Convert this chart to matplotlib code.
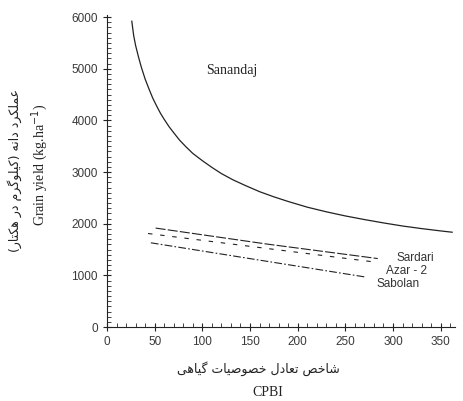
import matplotlib
matplotlib.use("Agg")
import matplotlib.pyplot as plt
from matplotlib.ticker import MultipleLocator

# ---------------- data ----------------
sanandaj_x = [26, 28, 30, 33, 36, 40, 44, 48, 52, 56, 60, 65, 70, 76, 83, 90, 100,
              110, 120, 132, 145, 160, 175, 190, 210, 230, 250, 270, 290, 310, 330,
              350, 362]
sanandaj_y = [5920, 5640, 5450, 5230, 5030, 4800, 4610, 4430, 4280, 4140, 4020,
              3880, 3760, 3620, 3485, 3360, 3220, 3090, 2970, 2850, 2740, 2620,
              2520, 2430, 2320, 2230, 2150, 2080, 2015, 1955, 1905, 1860, 1835]

sardari_x = [51, 168, 284]
sardari_y = [1915, 1605, 1325]

azar_x = [43, 282]
azar_y = [1810, 1255]

sabolan_x = [46, 272]
sabolan_y = [1630, 965]

y_ticks = [0, 1000, 2000, 3000, 4000, 5000, 6000]
x_ticks = [0, 50, 100, 150, 200, 250, 300, 350]

# ---------------- minimal Persian shaping ----------------
FORMS = {  # isolated, final, initial, medial
    'ا': ('\uFE8D', '\uFE8E', None, None),
    'ب': ('\uFE8F', '\uFE90', '\uFE91', '\uFE92'),
    'ت': ('\uFE95', '\uFE96', '\uFE97', '\uFE98'),
    'خ': ('\uFEA5', '\uFEA6', '\uFEA7', '\uFEA8'),
    'د': ('\uFEA9', '\uFEAA', None, None),
    'ر': ('\uFEAD', '\uFEAE', None, None),
    'ش': ('\uFEB5', '\uFEB6', '\uFEB7', '\uFEB8'),
    'ص': ('\uFEB9', '\uFEBA', '\uFEBB', '\uFEBC'),
    'ع': ('\uFEC9', '\uFECA', '\uFECB', '\uFECC'),
    'ل': ('\uFEDD', '\uFEDE', '\uFEDF', '\uFEE0'),
    'م': ('\uFEE1', '\uFEE2', '\uFEE3', '\uFEE4'),
    'ن': ('\uFEE5', '\uFEE6', '\uFEE7', '\uFEE8'),
    'ه': ('\uFEE9', '\uFEEA', '\uFEEB', '\uFEEC'),
    'و': ('\uFEED', '\uFEEE', None, None),
    'ی': ('\uFBFC', '\uFBFD', '\uFBFE', '\uFBFF'),
    'ک': ('\uFB8E', '\uFB8F', '\uFB90', '\uFB91'),
    'گ': ('\uFB92', '\uFB93', '\uFB94', '\uFB95'),
}


def shape(text):
    out = []
    n = len(text)
    for i, ch in enumerate(text):
        if ch not in FORMS:
            out.append(ch)
            continue
        prev = text[i - 1] if i > 0 else None
        nxt = text[i + 1] if i < n - 1 else None
        joins_prev = prev in FORMS and FORMS[prev][2] is not None
        joins_next = nxt in FORMS and FORMS[ch][2] is not None
        iso, fin, ini, med = FORMS[ch]
        if joins_prev and joins_next:
            out.append(med)
        elif joins_prev:
            out.append(fin)
        elif joins_next:
            out.append(ini)
        else:
            out.append(iso)
    vis = out[::-1]
    mirror = {'(': ')', ')': '('}
    return ''.join(mirror.get(c, c) for c in vis)


ylabel_fa = "عملکرد دانه (کیلوگرم در هکتار)"
xlabel_fa = "شاخص تعادل خصوصیات گیاهی"

# ---------------- figure ----------------
fig = plt.figure(figsize=(4.63, 4.01), dpi=100)
ax = fig.add_axes([107 / 463, 74 / 401, 348 / 463, 312 / 401])

ink = '#222222'
ax.plot(sanandaj_x, sanandaj_y, color=ink, lw=0.9)
ax.plot(sardari_x, sardari_y, color=ink, lw=0.8, ls=(0, (9, 2)))
ax.plot(azar_x, azar_y, color=ink, lw=0.8, ls=(0, (4, 7)))
ax.plot(sabolan_x, sabolan_y, color=ink, lw=0.8, ls=(0, (7, 2, 1.5, 2)))

ax.set_xlim(0, 365)
ax.set_ylim(0, 6040)
ax.set_xticks(x_ticks)
ax.set_yticks(y_ticks)
ax.xaxis.set_minor_locator(MultipleLocator(10))
ax.yaxis.set_minor_locator(MultipleLocator(100))
ax.tick_params(which='major', direction='inout', length=6, width=0.8, color=ink,
               labelsize=8.5, labelcolor='#3a3a3a')
ax.tick_params(which='minor', direction='in', length=3, width=0.6, color=ink)
for lab in ax.get_xticklabels() + ax.get_yticklabels():
    lab.set_family('Liberation Sans')
for s in ['top', 'right']:
    ax.spines[s].set_visible(False)
for s in ['left', 'bottom']:
    ax.spines[s].set_color(ink)
    ax.spines[s].set_linewidth(0.8)

ax.text(131, 4970, 'Sanandaj', family='Liberation Serif', fontsize=10, color=ink,
        ha='center', va='center')
ax.text(304, 1335, 'Sardari', family='Liberation Sans', fontsize=8.5, color='#333333',
        ha='left', va='center')
ax.text(293, 1085, 'Azar - 2', family='Liberation Sans', fontsize=8.5, color='#333333',
        ha='left', va='center')
ax.text(283, 830, 'Sabolan', family='Liberation Sans', fontsize=8.5, color='#333333',
        ha='left', va='center')

fig.text(0.557, 0.082, shape(xlabel_fa), family='DejaVu Sans', fontsize=9,
         ha='center', va='center', color=ink)
fig.text(0.579, 0.022, 'CPBI', family='Liberation Serif', fontsize=10,
         ha='center', va='center', color=ink)
fig.text(0.032, 0.576, shape(ylabel_fa), family='DejaVu Sans', fontsize=9,
         ha='center', va='center', rotation=90, color=ink)
fig.text(0.086, 0.589, 'Grain yield (kg.ha$^{-1}$)', family='Liberation Serif',
         fontsize=10, ha='center', va='center', rotation=90, color=ink)

fig.savefig('out.png', dpi=100, facecolor='white')
